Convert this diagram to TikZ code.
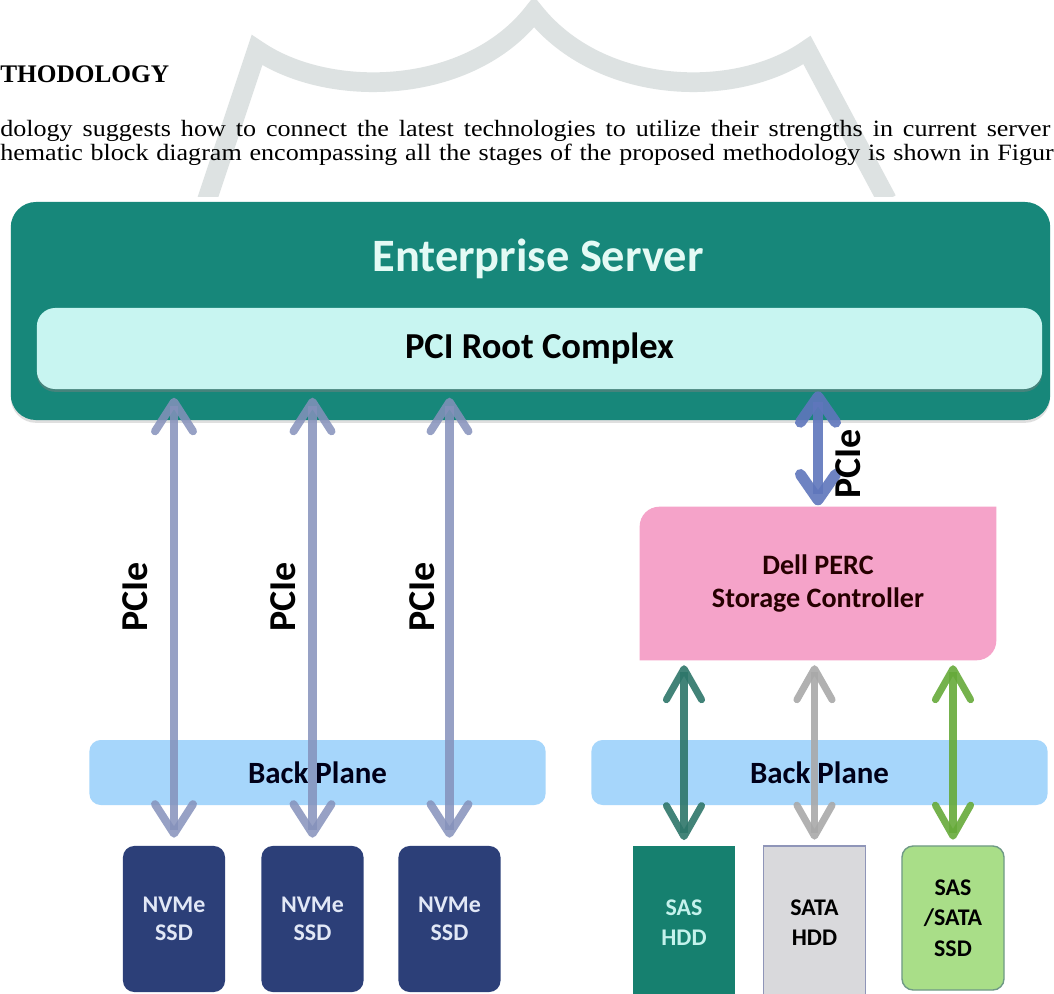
\documentclass[tikz,border=0pt]{standalone}
\usepackage{fontspec}
\setmainfont{Carlito}
\newfontfamily\paperfont{Liberation Serif}
\usepackage{tikz}
\usetikzlibrary{arrows.meta, positioning, shadows, backgrounds}
\usepackage{xcolor}
\definecolor{esTeal}{HTML}{17877A}
\definecolor{esText}{HTML}{E4FAF5}
\definecolor{rootFill}{HTML}{C8F5F1}
\definecolor{percPink}{HTML}{F5A3C9}
\definecolor{planeBlue}{HTML}{A6D6FB}
\definecolor{nvmeNavy}{HTML}{2C3F78}
\definecolor{nvmeText}{HTML}{E2E8F6}
\definecolor{sasTeal}{HTML}{16806F}
\definecolor{sasText}{HTML}{C4F2EC}
\definecolor{sataGray}{HTML}{D9D9DC}
\definecolor{sataEdge}{HTML}{8F95B8}
\definecolor{ssdGreen}{HTML}{A9DE88}
\definecolor{ssdEdge}{HTML}{6F9A86}
\definecolor{linkBlue}{HTML}{8591BB}
\definecolor{ctrlBlue}{HTML}{5F76BC}
\definecolor{sasLink}{HTML}{2E766A}
\definecolor{sataLink}{HTML}{A9A9A9}
\definecolor{ssdLink}{HTML}{66AA3A}
\definecolor{markGray}{HTML}{DDE2E2}
\tikzset{
    % Box styles
    server/.style={rectangle,rounded corners=18pt,fill=esTeal,minimum width=25.98cm,minimum height=5.45cm,inner sep=0pt,
        drop shadow={opacity=0.25,shadow xshift=0pt,shadow yshift=-2pt}},
    rootcx/.style={rectangle,rounded corners=13pt,fill=rootFill,minimum width=25.125cm,minimum height=2.025cm,
        font=\fontsize{26}{30}\selectfont\bfseries,drop shadow={opacity=0.45,shadow xshift=0pt,shadow yshift=-2pt}},
    percbox/.style={rectangle,minimum width=8.9cm,minimum height=3.825cm,align=center,
        font=\fontsize{20}{23.5}\selectfont\bfseries,text=black!85!red},
    plane/.style={rectangle,rounded corners=8pt,fill=planeBlue,minimum width=11.4cm,minimum height=1.625cm,
        font=\fontsize{22}{26}\selectfont\bfseries,text=black!90!blue},
    nvme/.style={rectangle,rounded corners=8pt,fill=nvmeNavy,text=nvmeText,minimum width=2.55cm,minimum height=3.65cm,
        align=center,font=\fontsize{17}{19.5}\selectfont\bfseries},
    drive/.style={rectangle,minimum width=2.55cm,minimum height=3.85cm,align=center,font=\fontsize{17}{21.5}\selectfont\bfseries},
    pcielabel/.style={rotate=90,font=\fontsize{27}{30}\selectfont\bfseries},
    paper/.style={anchor=base west,inner sep=0pt,font=\paperfont\fontsize{17.5}{19}\selectfont},
    % Link styles
    nvmelink/.style={<->,>={Straight Barb[length=21pt,width=27pt,round]},line width=5.7pt,linkBlue,opacity=0.85},
    ctrllink/.style={<->,>={Straight Barb[length=18pt,width=25pt,round]},line width=7.8pt,ctrlBlue,opacity=0.9},
    drivelink/.style={<->,>={Straight Barb[length=22pt,width=25pt,round]},line width=5pt,opacity=0.9}
}

\begin{document}
\begin{tikzpicture}[x=0.025cm, y=-0.025cm]
    \useasboundingbox (0,0) rectangle (1054,994);
    \clip (0,0) rectangle (1054,994);
    \begin{scope}[on background layer]
        \fill[white] (0,0) rectangle (1054,994);
    \end{scope}

    % Watermark of the page
    \begin{scope}
        \clip (0,0) rectangle (1054,196);
        \draw[markGray, line width=14pt] (207,200) -- (257,50) .. controls (330,100) and (470,95) .. (534,12)
            .. controls (600,95) and (735,100) .. (807,50) -- (887,200);
    \end{scope}

    % Text of the page
    \node[paper, font=\paperfont\fontsize{18}{20}\selectfont\bfseries] (head) at (0,82) {THODOLOGY};
    \node[paper] (lineA) at (0,136)
        {\scalebox{1.06}[0.95]{\makebox[24.76cm][s]{dology suggests how to connect the latest technologies to utilize their strengths in current server}}};
    \node[paper] (lineB) at (0,160)
        {\scalebox{1.06}[0.95]{\makebox[24.84cm][s]{hematic block diagram encompassing all the stages of the proposed methodology is shown in Figur}}};

    % Enterprise server with the root complex
    \node[server] (srv) at (530.5,311) {};
    \node[anchor=base, text=esText, font=\fontsize{33}{36}\selectfont\bfseries] (srvTitle) at (538,271) {Enterprise Server};
    \node[rootcx] (pci) at (539.5,348.5) {PCI Root Complex};

    % Storage controller
    \node[percbox] (perc) at (818,583.5) {Dell PERC\\Storage Controller};
    \begin{scope}[on background layer]
        \fill[percPink] (perc.south west) -- ([yshift=-14pt]perc.north west) arc[start angle=180, end angle=90, radius=14pt]
            -- (perc.north east) -- ([yshift=14pt]perc.south east) arc[start angle=0, end angle=-90, radius=14pt] -- cycle;
    \end{scope}

    % Back planes
    \node[plane] (bpLeft) at (317.5,772.5) {Back Plane};
    \node[plane] (bpRight) at (819.5,772.5) {Back Plane};

    % Drives
    \node[nvme] (nv1) at (174,919) {NVMe\\SSD};
    \node[nvme] (nv2) at (312.5,919) {NVMe\\SSD};
    \node[nvme] (nv3) at (449.5,919) {NVMe\\SSD};
    \node[drive, fill=sasTeal, text=sasText] (sas) at (684,923) {SAS\\HDD};
    \node[drive, fill=sataGray, draw=sataEdge, line width=1pt] (sata) at (814.5,923) {SATA\\HDD};
    \node[drive, fill=ssdGreen, draw=ssdEdge, line width=1pt, rounded corners=8pt, minimum height=3.6cm] (ssd) at (953,918) {SAS\\/SATA\\SSD};

    % PCIe links
    \foreach \d in {nv1,nv2,nv3}
        \draw[nvmelink, shorten <=5.7pt, shorten >=6pt] (\d.north) -- (\d.north |- pci.south);
    \draw[ctrllink, shorten <=1pt, shorten >=1.5pt] (perc.north) -- (perc.north |- pci.south);
    \node[pcielabel] (lbl1) at (135,597) {PCIe};
    \node[pcielabel] (lbl2) at (283,597) {PCIe};
    \node[pcielabel] (lbl3) at (422,597) {PCIe};
    \node[pcielabel] (lbl4) at (848,464) {PCIe};

    % Controller to drives
    \draw[drivelink, sasLink, shorten <=4pt, shorten >=3.5pt] (sas.north) -- (sas.north |- perc.south);
    \draw[drivelink, sataLink, shorten <=4pt, shorten >=3.5pt] (sata.north) -- (sata.north |- perc.south);
    \draw[drivelink, ssdLink, shorten <=4pt, shorten >=3.5pt] (ssd.north) -- (ssd.north |- perc.south);
\end{tikzpicture}
\end{document}
